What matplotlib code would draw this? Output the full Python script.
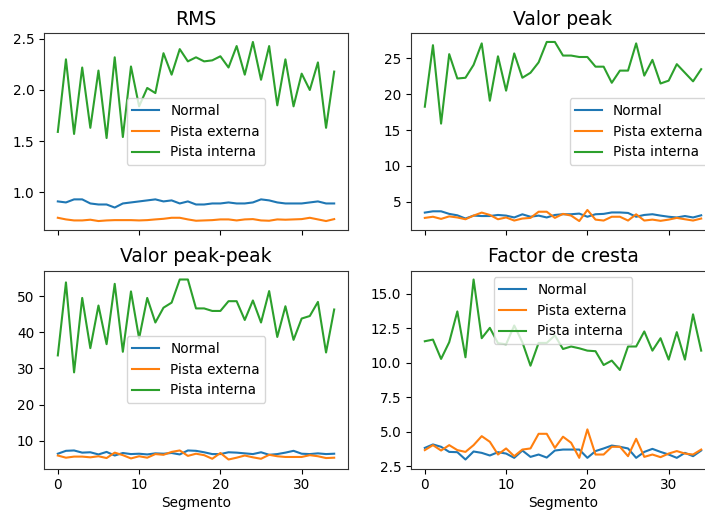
import matplotlib
matplotlib.use("Agg")
import matplotlib.pyplot as plt
import numpy as np

segmentos = np.arange(35)
series_names = ["Normal", "Pista externa", "Pista interna"]

rms_normal = [0.91, 0.90, 0.93, 0.93, 0.89, 0.88, 0.88, 0.85, 0.89, 0.90, 0.91, 0.92, 0.93, 0.91, 0.92,
              0.89, 0.91, 0.88, 0.88, 0.89, 0.89, 0.90, 0.89, 0.89, 0.90, 0.93, 0.92, 0.90, 0.89, 0.89,
              0.89, 0.90, 0.91, 0.89, 0.89]
rms_externa = [0.75, 0.734, 0.724, 0.724, 0.731, 0.718, 0.724, 0.727, 0.727, 0.727, 0.724, 0.727, 0.734, 0.740, 0.75,
               0.75, 0.734, 0.721, 0.724, 0.727, 0.734, 0.734, 0.724, 0.734, 0.737, 0.724, 0.721, 0.734, 0.731, 0.734,
               0.737, 0.75, 0.734, 0.718, 0.737]
rms_interna = [1.59, 2.30, 1.57, 2.22, 1.63, 2.19, 1.53, 2.32, 1.54, 2.23, 1.84, 2.02, 1.97, 2.36, 2.15,
               2.40, 2.28, 2.32, 2.28, 2.29, 2.33, 2.22, 2.43, 2.15, 2.47, 2.10, 2.43, 1.85, 2.30, 1.84,
               2.16, 2.00, 2.27, 1.63, 2.18]

peak_normal = [3.48, 3.66, 3.66, 3.3, 3.1, 2.65, 3.06, 3.0, 3.0, 3.15, 3.06, 2.8, 3.24, 2.9, 3.06,
               2.8, 3.15, 3.25, 3.25, 3.34, 2.9, 3.25, 3.3, 3.5, 3.5, 3.43, 2.9, 3.15, 3.25, 3.06,
               2.9, 2.8, 3.0, 2.8, 3.1]
peak_externa = [2.74, 2.9, 2.6, 2.95, 2.8, 2.55, 3.06, 3.48, 3.15, 2.55, 2.8, 2.37, 2.65, 2.74, 3.6,
                3.6, 2.74, 3.3, 3.06, 2.3, 3.85, 2.5, 2.37, 2.9, 2.9, 2.37, 3.24, 2.37, 2.5, 2.33,
                2.5, 2.74, 2.55, 2.37, 2.65]
peak_interna = [18.26, 26.85, 15.9, 25.6, 22.2, 22.3, 24.1, 27.1, 19.1, 25.3, 20.5, 25.7, 22.3, 23.0, 24.45,
                27.3, 27.3, 25.4, 25.4, 25.2, 25.2, 23.85, 23.85, 21.6, 23.3, 23.3, 27.1, 22.6, 24.8, 21.5,
                21.9, 24.2, 23.0, 21.8, 23.5]

pp_normal = [6.4, 7.2, 7.3, 6.7, 6.8, 6.2, 6.9, 5.9, 6.6, 6.3, 6.4, 6.2, 6.5, 6.4, 6.6,
             6.2, 7.3, 7.2, 6.8, 6.3, 6.3, 6.8, 6.7, 6.5, 6.3, 6.8, 6.1, 6.3, 6.7, 7.2,
             6.4, 6.3, 6.5, 6.3, 6.4]
pp_externa = [5.9, 5.3, 5.6, 5.6, 5.4, 5.7, 5.2, 6.7, 6.0, 5.1, 5.7, 5.3, 6.3, 6.1, 6.9,
              7.3, 5.8, 6.4, 6.0, 5.0, 6.6, 4.8, 5.3, 5.9, 5.4, 5.0, 6.1, 5.7, 5.5, 5.5,
              5.5, 6.0, 5.7, 5.2, 5.3]
pp_interna = [33.6, 53.8, 28.9, 49.5, 35.6, 47.4, 36.7, 53.4, 34.6, 51.3, 38.3, 49.5, 42.7, 46.8, 48.2,
              54.6, 54.6, 46.6, 46.6, 45.9, 45.9, 48.6, 48.6, 43.4, 48.8, 42.7, 51.4, 38.7, 47.2, 37.9,
              43.8, 44.5, 48.4, 34.4, 46.3]

cf_normal = [3.83, 4.08, 3.91, 3.54, 3.52, 2.99, 3.57, 3.47, 3.28, 3.52, 3.42, 3.11, 3.64, 3.18, 3.35,
             3.13, 3.64, 3.71, 3.71, 3.71, 3.11, 3.6, 3.79, 4.0, 3.91, 3.79, 3.11, 3.54, 3.76, 3.54,
             3.35, 3.11, 3.47, 3.23, 3.64]
cf_externa = [3.67, 4.03, 3.64, 4.03, 3.67, 3.54, 4.03, 4.68, 4.27, 3.35, 3.79, 3.23, 3.71, 3.79, 4.85,
              4.85, 3.83, 4.64, 4.2, 3.11, 5.17, 3.35, 3.35, 3.91, 3.91, 3.23, 4.49, 3.18, 3.35, 3.16,
              3.42, 3.6, 3.42, 3.35, 3.71]
cf_interna = [11.55, 11.67, 10.27, 11.48, 13.71, 10.39, 16.02, 11.77, 12.52, 11.41, 11.33, 12.69, 11.48, 9.78, 11.43,
              11.43, 11.97, 10.99, 11.17, 11.04, 10.87, 10.83, 9.83, 10.15, 9.47, 11.17, 11.17, 12.26, 10.87, 11.77,
              10.22, 12.21, 10.22, 13.5, 10.87]

titles = ["RMS", "Valor peak", "Valor peak-peak", "Factor de cresta"]
data = [
    (rms_normal, rms_externa, rms_interna),
    (peak_normal, peak_externa, peak_interna),
    (pp_normal, pp_externa, pp_interna),
    (cf_normal, cf_externa, cf_interna),
]
legend_locs = ["center", "center right", "center", "upper center"]

W, H = 705, 512
DPI = 100
fig = plt.figure(figsize=(W / DPI, H / DPI), dpi=DPI)

def px_axes(x0, y0, x1, y1, **kw):
    return fig.add_axes([x0 / W, 1 - y1 / H, (x1 - x0) / W, (y1 - y0) / H], **kw)

ax0 = px_axes(44, 33, 348, 230)
ax1 = px_axes(411, 33, 715, 230, sharex=ax0)
ax2 = px_axes(44, 270.5, 348, 468.5, sharex=ax0)
ax3 = px_axes(411, 270.5, 715, 468.5, sharex=ax0)
axes = [ax0, ax1, ax2, ax3]

FS = 9.8
colors = ["#1f77b4", "#ff7f0e", "#2ca02c"]
for ax, title, series, loc in zip(axes, titles, data, legend_locs):
    for vals, name, c in zip(series, series_names, colors):
        ax.plot(segmentos, vals, label=name, color=c, linewidth=1.5)
    ax.set_title(title, fontsize=13.5)
    ax.legend(loc=loc, fontsize=FS)
    ax.tick_params(labelsize=FS)
    for s in ax.spines.values():
        s.set_color("#333333")

for ax in (ax0, ax1):
    ax.tick_params(labelbottom=False)
for ax in (ax2, ax3):
    ax.set_xlabel("Segmento", fontsize=FS, labelpad=3)

ax0.set_xticks([0, 10, 20, 30])
ax0.set_yticks([1.0, 1.5, 2.0, 2.5])
ax1.set_yticks([5, 10, 15, 20, 25])
ax2.set_yticks([10, 20, 30, 40, 50])
ax3.set_yticks([2.5, 5.0, 7.5, 10.0, 12.5, 15.0])

fig.savefig("out.png", dpi=DPI)
